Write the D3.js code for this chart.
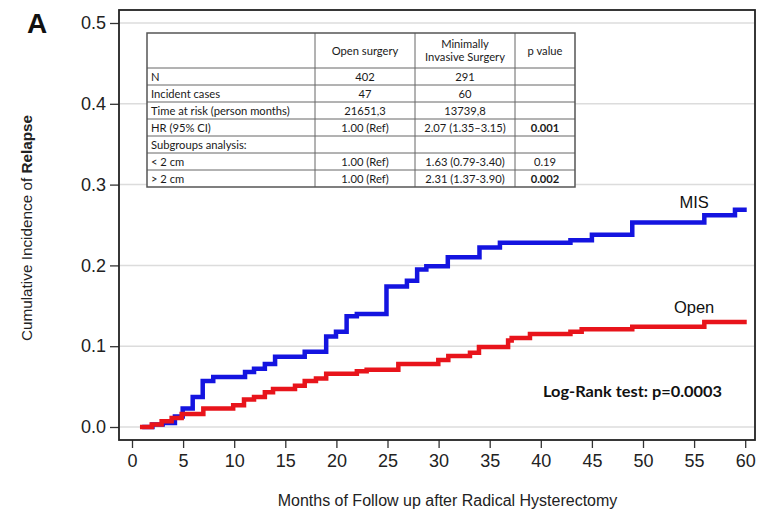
<!DOCTYPE html>
<html><head><meta charset="utf-8">
<script src="https://cdn.jsdelivr.net/npm/d3@7"></script>
<style>body{margin:0;background:#fff}svg{display:block}</style>
</head><body><svg id="c" width="757" height="511"></svg>
<script>
// ---- data ----
const xTicks = [0,5,10,15,20,25,30,35,40,45,50,55,60];
const yTicks = [0,0.1,0.2,0.3,0.4,0.5];
const misTimes  = [1.0,2.0,3.0,4.2,4.96,5.94,6.92,7.95,11.06,11.94,13.0,14.0,16.9,19.0,19.96,21.0,22.0,24.9,26.9,27.9,28.8,30.9,34.0,36.0,42.9,45.0,48.95,56.0,59.0,60.15];
const misValues = [0,0.003,0.005,0.013,0.023,0.037,0.057,0.062,0.068,0.072,0.078,0.087,0.093,0.112,0.118,0.137,0.140,0.174,0.181,0.195,0.199,0.210,0.222,0.228,0.231,0.238,0.253,0.262,0.269,0.269];
const openTimes  = [0.78,1.93,2.9,3.88,4.86,6.98,9.9,10.96,11.94,13.0,13.8,15.95,16.9,18.0,19.0,22.0,22.96,26.06,29.97,30.95,33.07,33.95,36.8,37.15,38.94,42.9,44.0,48.95,56.0,60.15];
const openValues = [0,0.003,0.007,0.011,0.016,0.023,0.027,0.034,0.037,0.043,0.047,0.051,0.057,0.060,0.066,0.069,0.071,0.078,0.083,0.088,0.092,0.099,0.107,0.110,0.115,0.118,0.121,0.124,0.130,0.130];
const seriesNames = ["MIS","Open"];
const tableHeader = ["", "Open surgery", "Minimally\nInvasive Surgery", "p value"];
const tableLabels = ["N","Incident cases","Time at risk (person months)","HR (95% CI)","Subgroups analysis:","< 2 cm","> 2 cm"];
const tableOpen   = ["402","47","21651,3","1.00 (Ref)","","1.00 (Ref)","1.00 (Ref)"];
const tableMis    = ["291","60","13739,8","2.07 (1.35\u20133.15)","","1.63 (0.79-3.40)","2.31 (1.37-3.90)"];
const tableP      = ["","","","0.001","","0.19","0.002"];
const tablePBold  = [false,false,false,true,false,false,true];
const logRankText = "Log-Rank test: p=0.0003";

// ---- layout ----
const svg = d3.select("#c");
const frame = {l:119, t:10, r:755, b:440};
const x = d3.scaleLinear().domain([0,60]).range([132,745.2]);
const y = d3.scaleLinear().domain([0,0.5]).range([427,23]);
const helv = "'Liberation Sans', Arial, Helvetica, sans-serif";
const cal = "Lato, 'Open Sans', sans-serif";

svg.append("rect").attr("width",757).attr("height",511).attr("fill","#fff");

// gridlines
svg.append("g").selectAll("line").data(yTicks).join("line")
  .attr("x1",frame.l+1).attr("x2",frame.r-1)
  .attr("y1",d=>y(d)).attr("y2",d=>y(d))
  .attr("stroke","#dcdcdc").attr("stroke-width",1.5);

// axes
const ya = svg.append("g").attr("transform",`translate(${frame.l},0)`)
  .call(d3.axisLeft(y).tickValues(yTicks).tickFormat(d3.format(".1f")).tickSize(9).tickPadding(4));
ya.select(".domain").remove();
ya.selectAll("text").attr("font-family",helv).attr("font-size",18).attr("fill","#222");
ya.selectAll("line").attr("stroke","#333").attr("stroke-width",1.3);

const xa = svg.append("g").attr("transform",`translate(0,${frame.b})`)
  .call(d3.axisBottom(x).tickValues(xTicks).tickSize(8).tickPadding(6));
xa.select(".domain").remove();
xa.selectAll("text").attr("font-family",helv).attr("font-size",18).attr("fill","#222");
xa.selectAll("line").attr("stroke","#333").attr("stroke-width",1.3);

// frame
svg.append("rect").attr("x",frame.l).attr("y",frame.t)
  .attr("width",frame.r-frame.l).attr("height",frame.b-frame.t)
  .attr("fill","none").attr("stroke","#222").attr("stroke-width",1.8);

// curves
const line = d3.line().x(d=>x(d[0])).y(d=>y(d[1])).curve(d3.curveStepAfter);
const misData = misTimes.map((t,i)=>[t,misValues[i]]);
const openData = openTimes.map((t,i)=>[t,openValues[i]]);
svg.append("path").datum(misData).attr("d",line).attr("fill","none")
  .attr("stroke","#1414e0").attr("stroke-width",4.5);
svg.append("path").datum(openData).attr("d",line).attr("fill","none")
  .attr("stroke","#e8141b").attr("stroke-width",4.5);

// series labels
svg.append("text").attr("x",x(55.0)).attr("y",208).text(seriesNames[0])
  .attr("font-family",helv).attr("font-size",16.5).attr("text-anchor","middle").attr("fill","#111");
svg.append("text").attr("x",x(55.0)).attr("y",313).text(seriesNames[1])
  .attr("font-family",helv).attr("font-size",16.5).attr("text-anchor","middle").attr("fill","#111");

// log-rank
svg.append("text").attr("x",543).attr("y",397).text(logRankText)
  .attr("font-family",cal).attr("font-weight","bold").attr("font-size",15.5)
  .attr("textLength",179).attr("lengthAdjust","spacingAndGlyphs").attr("fill","#111");

// table
const colX = [147,315,415,515,575];
const rowY = [33,68,85,102,119,136,153,170,187];
const tg = svg.append("g");
tg.append("rect").attr("x",colX[0]).attr("y",rowY[0]).attr("width",colX[4]-colX[0]).attr("height",rowY[8]-rowY[0])
  .attr("fill","#fff");
rowY.slice(1,8).forEach(yy=>tg.append("line").attr("x1",colX[0]).attr("x2",colX[4]).attr("y1",yy).attr("y2",yy)
  .attr("stroke","#666").attr("stroke-width",1));
colX.slice(1,4).forEach(xx=>tg.append("line").attr("x1",xx).attr("x2",xx).attr("y1",rowY[0]).attr("y2",rowY[8])
  .attr("stroke","#666").attr("stroke-width",1));
tg.append("rect").attr("x",colX[0]).attr("y",rowY[0]).attr("width",colX[4]-colX[0]).attr("height",rowY[8]-rowY[0])
  .attr("fill","none").attr("stroke","#555").attr("stroke-width",1.5);
const tf = (sel)=>sel.attr("font-family",cal).attr("font-size",11.2).attr("fill","#1a1a1a");
tableHeader.forEach((h,i)=>{
  if(!h) return;
  const cx = (colX[i]+colX[i+1])/2;
  const lines = h.split("\n");
  const cy = (rowY[0]+rowY[1])/2;
  lines.forEach((ln,j)=>{
    tf(tg.append("text")).attr("x",cx).attr("y",cy+4+(j-(lines.length-1)/2)*13)
      .attr("text-anchor","middle").text(ln);
  });
});
tableLabels.forEach((lab,r)=>{
  const cy = (rowY[r+1]+rowY[r+2])/2 + 4;
  tf(tg.append("text")).attr("x",colX[0]+4).attr("y",cy).text(lab);
  tf(tg.append("text")).attr("x",(colX[1]+colX[2])/2).attr("y",cy).attr("text-anchor","middle").text(tableOpen[r]);
  tf(tg.append("text")).attr("x",(colX[2]+colX[3])/2).attr("y",cy).attr("text-anchor","middle").text(tableMis[r]);
  tf(tg.append("text")).attr("x",(colX[3]+colX[4])/2).attr("y",cy).attr("text-anchor","middle")
    .attr("font-weight",tablePBold[r]?"bold":"normal").text(tableP[r]);
});

// axis titles
const yt = svg.append("text").attr("transform","translate(32,228) rotate(-90)")
  .attr("text-anchor","middle").attr("font-family",helv).attr("font-size",15.3).attr("fill","#222");
yt.append("tspan").text("Cumulative Incidence of ");
yt.append("tspan").attr("font-weight","bold").text("Relapse");
svg.append("text").attr("x",447.5).attr("y",505.5).attr("text-anchor","middle")
  .attr("font-family",helv).attr("font-size",16).attr("fill","#222")
  .text("Months of Follow up after Radical Hysterectomy");

// panel letter
svg.append("text").attr("x",27).attr("y",33).text("A")
  .attr("font-family",helv).attr("font-weight","bold").attr("font-size",28).attr("fill","#111");
</script></body></html>
